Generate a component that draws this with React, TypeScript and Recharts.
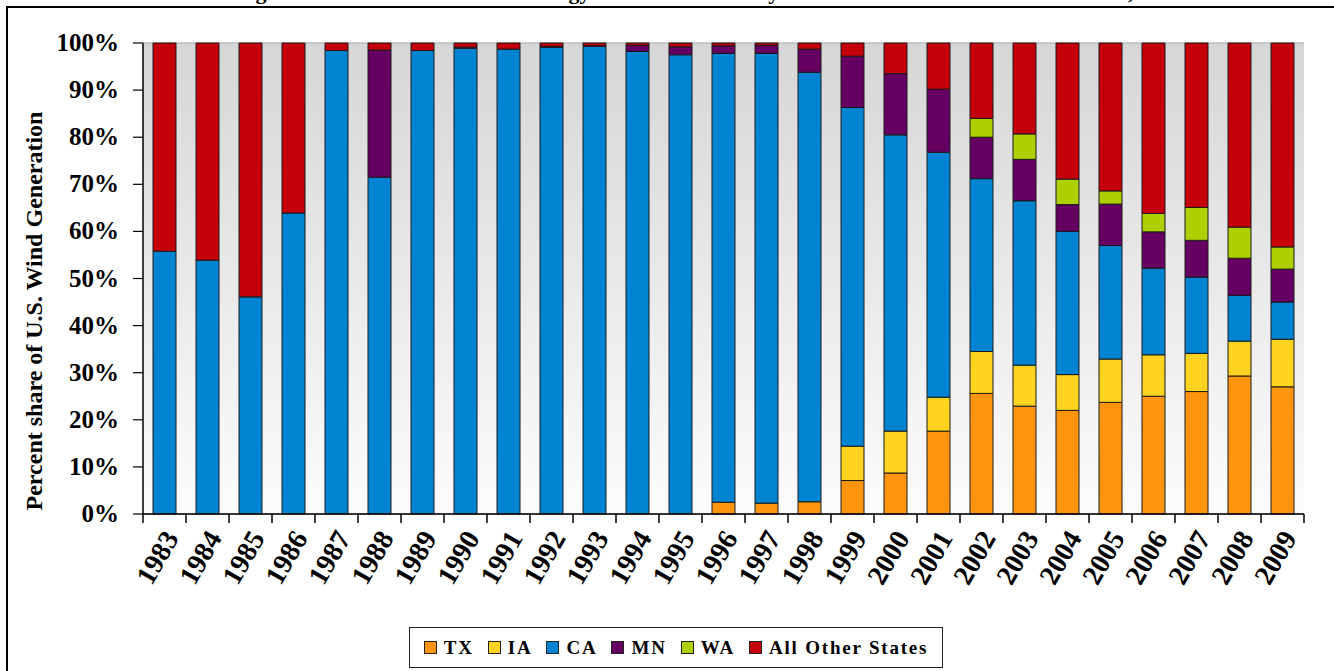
import React from 'react';
import { BarChart, Bar, XAxis, YAxis, CartesianGrid } from 'recharts';

const years = ['1983','1984','1985','1986','1987','1988','1989','1990','1991','1992','1993','1994','1995','1996','1997','1998','1999','2000','2001','2002','2003','2004','2005','2006','2007','2008','2009'];

const txShare    = [0,0,0,0,0,0,0,0,0,0,0,0,0,2.5,2.3,2.6,7.1,8.7,17.6,25.6,22.9,22.0,23.7,25.0,26.0,29.3,27.0];
const iaShare    = [0,0,0,0,0,0,0,0,0,0,0,0,0,0,0,0,7.3,8.9,7.2,8.9,8.7,7.6,9.2,8.8,8.1,7.4,10.1];
const caShare    = [55.8,53.9,46.1,63.9,98.4,71.5,98.4,98.9,98.7,99.1,99.3,98.2,97.5,95.3,95.5,91.2,71.9,62.9,52.0,36.7,34.9,30.4,24.1,18.4,16.2,9.7,7.9];
const mnShare    = [0,0,0,0,0,27.0,0,0.2,0,0.2,0.1,1.3,1.7,1.6,1.7,4.9,10.9,13.0,13.4,8.8,8.8,5.7,8.8,7.7,7.8,7.9,7.0];
const waShare    = [0,0,0,0,0,0,0,0,0,0,0,0,0,0,0,0,0,0,0,4.0,5.4,5.4,2.8,3.9,7.0,6.6,4.7];
const otherShare = [44.2,46.1,53.9,36.1,1.6,1.5,1.6,0.9,1.3,0.7,0.6,0.5,0.8,0.6,0.5,1.3,2.8,6.5,9.8,16.0,19.3,28.9,31.4,36.2,34.9,39.1,43.3];

const yTicks = [0,10,20,30,40,50,60,70,80,90,100];

const seriesNames = ['TX','IA','CA','MN','WA','All Other States'];
const seriesColors = ['#ff950e','#ffd320','#0084d1','#650062','#aecf00','#c5000b'];
const seriesValues = [txShare, iaShare, caShare, mnShare, waShare, otherShare];

const data = years.map((year, i) => {
  const row: any = { year };
  seriesNames.forEach((n, k) => { row[n] = seriesValues[k][i]; });
  return row;
});

const W = 1334;
const H = 671;
const M = { top: 43, right: 30, left: 0, bottom: 0 };
const Y_AXIS_W = 143;
const X_AXIS_H = 157;
const PLOT_W = W - M.left - M.right - Y_AXIS_W;
const SERIF = "'Liberation Serif', 'Times New Roman', serif";

const XTick = (props: any) => {
  const { x, y, payload, index } = props;
  const half = PLOT_W / years.length / 2;
  return (
    <g>
      <line x1={x - half} x2={x - half} y1={y} y2={y + 9} stroke="#000" strokeWidth={1.5} />
      {index === years.length - 1 && (
        <line x1={x + half} x2={x + half} y1={y} y2={y + 9} stroke="#000" strokeWidth={1.5} />
      )}
      <text
        transform={`translate(${x + 15},${y + 24}) rotate(-60)`}
        textAnchor="end"
        fontSize={28}
        fontWeight="bold"
        fontFamily={SERIF}
        fill="#000"
      >
        {payload.value}
      </text>
    </g>
  );
};

const YTick = (props: any) => {
  const { x, y, payload } = props;
  return (
    <text x={x} y={y + 8} textAnchor="end" fontSize={25} fontWeight="bold" fontFamily={SERIF} fill="#000">
      {payload.value + '%'}
    </text>
  );
};

export default function App() {
  return (
    <div style={{ position: 'fixed', left: 0, top: 0, width: W, height: H, overflow: 'hidden', background: '#fff' }}>
      <div style={{ position: 'absolute', left: 6, top: 6, width: 3000, height: 3000, borderLeft: '2px solid #000', borderTop: '2px solid #000' }} />
      <svg width={W} height={20} style={{ position: 'absolute', left: 0, top: 0 }}>
        <text y={-1} fontSize={22} fontWeight="bold" fontFamily={SERIF} fill="#000">
          <tspan x={236}>Figure 3. Share of Wind</tspan>
          <tspan x={522}>Energy Generation</tspan>
          <tspan x={756}>by State as Percent of U.S.</tspan>
          <tspan x={1080}>Total, 1983-2009</tspan>
        </text>
      </svg>
      <div style={{ position: 'absolute', left: 0, top: 0 }}>
        <BarChart width={W} height={H} data={data} margin={M} barSize={23}>
          <defs>
            <linearGradient id="plotBg" x1="0" y1="0" x2="0" y2="1">
              <stop offset="0%" stopColor="#d6d6d6" />
              <stop offset="100%" stopColor="#fcfcfc" />
            </linearGradient>
          </defs>
          <CartesianGrid vertical={false} fill="url(#plotBg)" stroke="#bdbdbd" strokeWidth={1.5} />
          <XAxis
            dataKey="year"
            height={X_AXIS_H}
            interval={0}
            tickLine={false}
            tickSize={0}
            tickMargin={0}
            axisLine={{ stroke: '#000', strokeWidth: 1.5 }}
            tick={<XTick />}
          />
          <YAxis
            yAxisId="left"
            width={Y_AXIS_W}
            domain={[0, 100]}
            ticks={yTicks}
            interval={0}
            tickSize={10}
            tickMargin={14}
            tickLine={{ stroke: '#000', strokeWidth: 1.2 }}
            axisLine={{ stroke: '#000', strokeWidth: 1.5 }}
            tick={<YTick />}
          />
          <YAxis
            yAxisId="right"
            orientation="right"
            width={0}
            domain={[0, 100]}
            tick={false}
            tickLine={false}
            axisLine={{ stroke: '#b5b5b5', strokeWidth: 1.5 }}
          />
          {seriesNames.map((n, k) => (
            <Bar
              key={n}
              yAxisId="left"
              dataKey={n}
              stackId="s"
              fill={seriesColors[k]}
              stroke="#1a1a1a"
              strokeWidth={1}
              isAnimationActive={false}
            />
          ))}
          <text
            transform="translate(42,311) rotate(-90)"
            textAnchor="middle"
            fontSize={24}
            fontWeight="bold"
            fontFamily={SERIF}
            fill="#000"
          >
            Percent share of U.S. Wind Generation
          </text>
        </BarChart>
      </div>
      <div
        style={{
          position: 'absolute', left: 409, top: 627, width: 534, height: 41,
          border: '1.5px solid #222', background: '#fff', display: 'flex',
          alignItems: 'center', justifyContent: 'center', gap: 14,
          fontFamily: SERIF, fontWeight: 'bold', fontSize: 19, letterSpacing: 1.8,
          whiteSpace: 'nowrap', boxSizing: 'border-box',
        }}
      >
        {seriesNames.map((n, k) => (
          <div key={n} style={{ display: 'flex', alignItems: 'center' }}>
            <span style={{ display: 'inline-block', width: 11, height: 11, background: seriesColors[k], border: '1px solid #222', marginRight: 7 }} />
            <span>{n}</span>
          </div>
        ))}
      </div>
    </div>
  );
}
